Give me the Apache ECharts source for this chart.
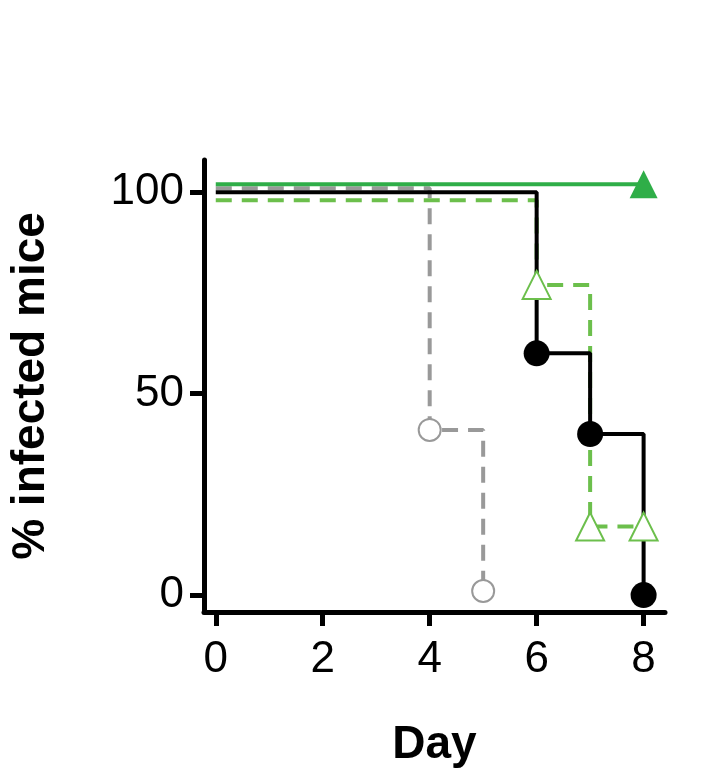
<!DOCTYPE html>
<html><head><meta charset="utf-8">
<script src="https://cdn.jsdelivr.net/npm/echarts@6/dist/echarts.min.js"></script>
<style>html,body{margin:0;background:#fff}#c{width:724px;height:773px}</style>
</head><body><div id="c"></div>
<script>
// survival data [day, %]
const greenSolid = [[0, 102], [8, 102]];
const greenDash = [[0, 98], [6, 77], [7, 17], [8, 17]];
const greyDash = [[0, 101], [4, 41], [5, 1]];
const black = [[0, 100], [6, 60], [7, 40], [8, 0]];
const xTicks = [0, 2, 4, 6, 8];
const yTicks = [0, 50, 100];

const myChart = echarts.init(document.getElementById('c'));

function pts(arr, marked, symbol) {
  return arr.map((p, i) => marked.includes(i) ? { value: p, symbol: symbol } : { value: p, symbol: 'none' });
}

const option = {
  animation: false,
  grid: { left: 200, right: 59, top: 160, bottom: 161 },
  xAxis: {
    type: 'value', min: -0.22, max: 8.4,
    name: 'Day', nameLocation: 'middle', nameGap: 110,
    nameTextStyle: { fontFamily: 'Liberation Sans', fontWeight: 'bold', fontSize: 46, color: '#000' },
    axisLine: { onZero: false, lineStyle: { color: '#000', width: 5 } },
    axisTick: { show: true, length: 14, lineStyle: { color: '#000', width: 5 }, customValues: xTicks },
    axisLabel: { customValues: xTicks, fontFamily: 'Liberation Sans', fontSize: 44, color: '#000', margin: 26 },
    splitLine: { show: false }
  },
  yAxis: {
    type: 'value', min: -4.2, max: 108,
    name: '% infected mice', nameLocation: 'middle', nameGap: 150, nameRotate: 90,
    nameTextStyle: { fontFamily: 'Liberation Sans', fontWeight: 'bold', fontSize: 46, color: '#000' },
    axisLine: { show: true, onZero: false, lineStyle: { color: '#000', width: 5 } },
    axisTick: { show: true, length: 14, lineStyle: { color: '#000', width: 5 }, customValues: yTicks },
    axisLabel: { customValues: yTicks, fontFamily: 'Liberation Sans', fontSize: 44, color: '#000', margin: 20 },
    splitLine: { show: false }
  },
  series: [
    {
      type: 'line', step: 'end', data: pts(greyDash, [1, 2], 'emptyCircle'),
      symbolSize: 22, color: '#999',
      lineStyle: { color: '#999', width: 4, type: [16, 10] },
      itemStyle: { color: '#999', borderColor: '#999', borderWidth: 4 }
    },
    {
      type: 'line', step: 'end', data: pts(greenDash, [1, 2, 3], 'emptyTriangle'),
      symbolSize: 28, color: '#6cbf4c',
      lineStyle: { color: '#6cbf4c', width: 4, type: [16, 10] },
      itemStyle: { color: '#6cbf4c', borderColor: '#6cbf4c', borderWidth: 4 }
    },
    {
      type: 'line', step: 'end', data: pts(black, [1, 2, 3], 'circle'),
      symbolSize: 26, color: '#000',
      lineStyle: { color: '#000', width: 4 },
      itemStyle: { color: '#000' }
    },
    {
      type: 'line', step: 'end', data: pts(greenSolid, [1], 'triangle'),
      symbolSize: 28, color: '#2fae48',
      lineStyle: { color: '#2fae48', width: 4 },
      itemStyle: { color: '#2fae48' }
    }
  ]
};
myChart.setOption(option);
</script></body></html>
